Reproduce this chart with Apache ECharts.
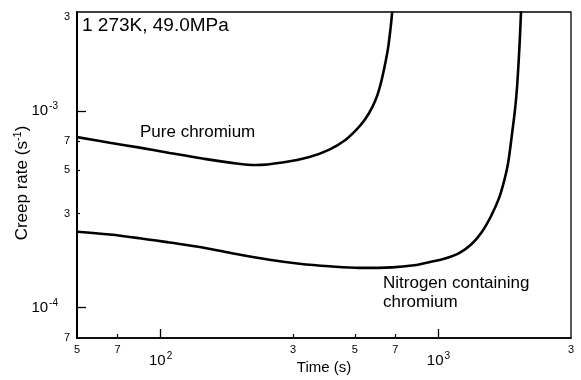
<!DOCTYPE html>
<html>
<head>
<meta charset="utf-8">
<script src="https://cdn.jsdelivr.net/npm/echarts@6/dist/echarts.min.js"></script>
<style>
html,body{margin:0;padding:0;background:#fff;}
#chart{width:581px;height:380px;}
</style>
</head>
<body>
<div id="chart"></div>
<script>
// Time (s) and creep rate (s^-1)
var pureTime = [50, 65.6, 84.1, 107.7, 141.6, 187.1, 220.8, 274.4, 343.1, 404.8, 458.3, 506.1, 545.3, 577.9, 602.4, 622.6, 640.9, 657.1, 668.0, 676.1, 681.7];
var pureRate = [7.35e-4, 6.88e-4, 6.50e-4, 6.11e-4, 5.72e-4, 5.40e-4, 5.30e-4, 5.46e-4, 5.82e-4, 6.35e-4, 7.04e-4, 8.00e-4, 9.08e-4, 1.044e-3, 1.199e-3, 1.410e-3, 1.697e-3, 2.042e-3, 2.429e-3, 2.824e-3, 3.206e-3];
var nitroTime = [50, 65.6, 84.1, 107.7, 141.6, 187.1, 246.4, 315.9, 404.8, 518.9, 681.7, 817.8, 926.0, 1063, 1187, 1311, 1435, 1547, 1652, 1722, 1780, 1840, 1887, 1918, 1950, 1966, 1983];
var nitroRate = [2.43e-4, 2.35e-4, 2.25e-4, 2.14e-4, 2.02e-4, 1.87e-4, 1.75e-4, 1.67e-4, 1.62e-4, 1.59e-4, 1.60e-4, 1.64e-4, 1.70e-4, 1.78e-4, 1.89e-4, 2.09e-4, 2.43e-4, 2.92e-4, 3.60e-4, 4.38e-4, 5.40e-4, 7.64e-4, 1.020e-3, 1.316e-3, 1.927e-3, 2.43e-3, 3.206e-3];

var xMinorTicks = [70, 300, 500, 700];
var xMinorLabels = [50, 70, 300, 500, 700, 3000];
var xMajorTicks = [100, 1000];
var yMinorTicks = [3e-4, 5e-4, 7e-4];
var yMinorLabels = [7e-5, 3e-4, 5e-4, 7e-4, 3e-3];
var yMajorTicks = [1e-4, 1e-3];

var seriesNames = ['Pure chromium', 'Nitrogen containing\nchromium'];
var conditionText = '1 273K, 49.0MPa';

function zip(a, b) { return a.map(function (v, i) { return [v, b[i]]; }); }
function mant(v) { var e = Math.floor(Math.log10(v) + 1e-9); return String(Math.round(v / Math.pow(10, e))); }
function expo(v) { return Math.round(Math.log10(v)); }

var FONT = '"Liberation Sans", Arial, sans-serif';
var xMin = 50, xMax = 3000, yMin = 7e-5, yMax = 3.18e-3;

var chart = echarts.init(document.getElementById('chart'));
var grid = { left: 77, right: 10, top: 12, bottom: 38, show: true, borderColor: '#000', borderWidth: 1.3, backgroundColor: 'transparent' };

var option = {
  animation: false,
  backgroundColor: '#fff',
  grid: grid,
  xAxis: [
    {
      type: 'log', logBase: 10, min: xMin, max: xMax,
      name: 'Time (s)', nameLocation: 'middle', nameGap: 22,
      nameTextStyle: { fontFamily: FONT, fontSize: 15, color: '#000' },
      axisLine: { show: true, lineStyle: { color: '#000', width: 1.6 } },
      axisTick: { show: true, inside: true, length: 4, customValues: xMinorTicks, lineStyle: { color: '#000', width: 1.2 } },
      axisLabel: { show: true, customValues: xMinorLabels, margin: 6, fontFamily: FONT, fontSize: 11, color: '#000',
        formatter: function (v) { return mant(v); } },
      splitLine: { show: false }, minorTick: { show: false }, minorSplitLine: { show: false }
    },
    {
      type: 'log', logBase: 10, min: xMin, max: xMax, position: 'bottom',
      axisLine: { show: false },
      axisTick: { show: true, inside: true, length: 9, customValues: xMajorTicks, lineStyle: { color: '#000', width: 1.3 } },
      axisLabel: { show: true, customValues: xMajorTicks, margin: 13,
        formatter: function (v) { return '{b|10}{s|' + expo(v) + '}'; },
        rich: {
          b: { fontFamily: FONT, fontSize: 15, color: '#000' },
          s: { fontFamily: FONT, fontSize: 10, color: '#000', padding: [0, 0, 9, 1] }
        } },
      splitLine: { show: false }
    }
  ],
  yAxis: [
    {
      type: 'log', logBase: 10, min: yMin, max: yMax,
      name: 'Creep rate (s{s|-1})', nameLocation: 'middle', nameGap: 44, nameRotate: 90,
      nameTextStyle: { fontFamily: FONT, fontSize: 17, color: '#000', padding: [0, 16, 0, 0],
        rich: { s: { fontFamily: FONT, fontSize: 11, color: '#000', padding: [0, 0, 10, 0] } } },
      axisLine: { show: true, lineStyle: { color: '#000', width: 2 } },
      axisTick: { show: true, inside: true, length: 3, customValues: yMinorTicks, lineStyle: { color: '#000', width: 1.2 } },
      axisLabel: { show: true, customValues: yMinorLabels, margin: 7, fontFamily: FONT, fontSize: 11, color: '#000',
        formatter: function (v) { return mant(v); } },
      splitLine: { show: false }, minorTick: { show: false }, minorSplitLine: { show: false }
    },
    {
      type: 'log', logBase: 10, min: yMin, max: yMax, position: 'left',
      axisLine: { show: false },
      axisTick: { show: true, inside: true, length: 9, customValues: yMajorTicks, lineStyle: { color: '#000', width: 1.3 } },
      axisLabel: { show: true, customValues: yMajorTicks, margin: 19,
        formatter: function (v) { return '{b|10}{s|' + expo(v) + '}'; },
        rich: {
          b: { fontFamily: FONT, fontSize: 15, color: '#000' },
          s: { fontFamily: FONT, fontSize: 10, color: '#000', padding: [0, 0, 9, 1] }
        } },
      splitLine: { show: false }
    }
  ],
  series: [
    { name: seriesNames[0], type: 'line', xAxisIndex: 0, yAxisIndex: 0, data: zip(pureTime, pureRate),
      smooth: 0.35, showSymbol: false, symbol: 'none', lineStyle: { color: '#000', width: 2.6 } },
    { name: seriesNames[1], type: 'line', xAxisIndex: 0, yAxisIndex: 0, data: zip(nitroTime, nitroRate),
      smooth: 0.35, showSymbol: false, symbol: 'none', lineStyle: { color: '#000', width: 2.6 } }
  ],
  graphic: [
    { type: 'text', left: 82, top: 16, style: { text: conditionText, font: '19px ' + FONT, fill: '#000' } },
    { type: 'text', left: 140, top: 124, style: { text: seriesNames[0], font: '17px ' + FONT, fill: '#000' } },
    { type: 'text', left: 383, top: 274, style: { text: seriesNames[1], font: '17px ' + FONT, fill: '#000', lineHeight: 19 } }
  ]
};
chart.setOption(option);
</script>
</body>
</html>
